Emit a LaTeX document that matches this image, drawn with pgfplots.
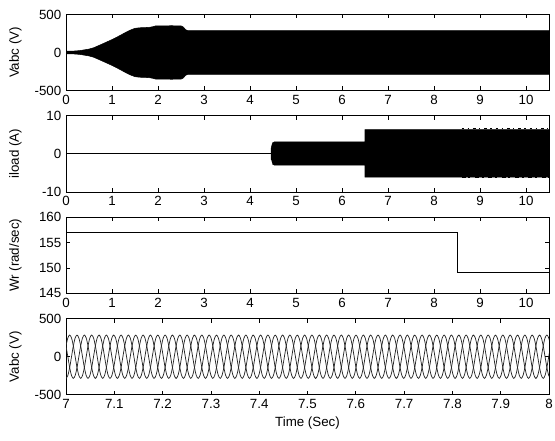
\documentclass[border=0pt]{standalone}
\usepackage{fontspec}
\setmainfont{Liberation Sans}
\usepackage{pgfplots}
\pgfplotsset{compat=1.18}
\usepackage{pgfplotstable}

\pgfplotstableread[row sep=\\]{
t a b c \\
7.0000 142.5 -285 142.5 \\ 7.0038 246.8 -246.8 0 \\ 7.0076 285 -142.5 -142.5 \\ 7.0114 246.8 0 -246.8 \\ 7.0152 142.5 142.5 -285 \\ 7.0190 0 246.8 -246.8 \\ 7.0228 -142.5 285 -142.5 \\ 7.0266 -246.8 246.8 0 \\ 7.0304 -285 142.5 142.5 \\ 7.0342 -246.8 0 246.8 \\ 7.0380 -142.5 -142.5 285 \\ 7.0418 0 -246.8 246.8 \\
7.0456 142.5 -285 142.5 \\ 7.0494 246.8 -246.8 0 \\ 7.0532 285 -142.5 -142.5 \\ 7.0570 246.8 0 -246.8 \\ 7.0608 142.5 142.5 -285 \\ 7.0646 0 246.8 -246.8 \\ 7.0684 -142.5 285 -142.5 \\ 7.0722 -246.8 246.8 0 \\ 7.0760 -285 142.5 142.5 \\ 7.0798 -246.8 0 246.8 \\ 7.0836 -142.5 -142.5 285 \\ 7.0874 0 -246.8 246.8 \\
7.0912 142.5 -285 142.5 \\ 7.0950 246.8 -246.8 0 \\ 7.0988 285 -142.5 -142.5 \\ 7.1026 246.8 0 -246.8 \\ 7.1064 142.5 142.5 -285 \\ 7.1102 0 246.8 -246.8 \\ 7.1140 -142.5 285 -142.5 \\ 7.1178 -246.8 246.8 0 \\ 7.1216 -285 142.5 142.5 \\ 7.1254 -246.8 0 246.8 \\ 7.1292 -142.5 -142.5 285 \\ 7.1330 0 -246.8 246.8 \\
7.1368 142.5 -285 142.5 \\ 7.1406 246.8 -246.8 0 \\ 7.1444 285 -142.5 -142.5 \\ 7.1482 246.8 0 -246.8 \\ 7.1520 142.5 142.5 -285 \\ 7.1558 0 246.8 -246.8 \\ 7.1596 -142.5 285 -142.5 \\ 7.1634 -246.8 246.8 0 \\ 7.1672 -285 142.5 142.5 \\ 7.1710 -246.8 0 246.8 \\ 7.1748 -142.5 -142.5 285 \\ 7.1786 0 -246.8 246.8 \\
7.1824 142.5 -285 142.5 \\ 7.1862 246.8 -246.8 0 \\ 7.1900 285 -142.5 -142.5 \\ 7.1938 246.8 0 -246.8 \\ 7.1976 142.5 142.5 -285 \\ 7.2014 0 246.8 -246.8 \\ 7.2052 -142.5 285 -142.5 \\ 7.2090 -246.8 246.8 0 \\ 7.2128 -285 142.5 142.5 \\ 7.2166 -246.8 0 246.8 \\ 7.2204 -142.5 -142.5 285 \\ 7.2242 0 -246.8 246.8 \\
7.2280 142.5 -285 142.5 \\ 7.2318 246.8 -246.8 0 \\ 7.2356 285 -142.5 -142.5 \\ 7.2394 246.8 0 -246.8 \\ 7.2432 142.5 142.5 -285 \\ 7.2470 0 246.8 -246.8 \\ 7.2508 -142.5 285 -142.5 \\ 7.2546 -246.8 246.8 0 \\ 7.2584 -285 142.5 142.5 \\ 7.2622 -246.8 0 246.8 \\ 7.2660 -142.5 -142.5 285 \\ 7.2698 0 -246.8 246.8 \\
7.2736 142.5 -285 142.5 \\ 7.2774 246.8 -246.8 0 \\ 7.2812 285 -142.5 -142.5 \\ 7.2850 246.8 0 -246.8 \\ 7.2888 142.5 142.5 -285 \\ 7.2926 0 246.8 -246.8 \\ 7.2964 -142.5 285 -142.5 \\ 7.3002 -246.8 246.8 0 \\ 7.3040 -285 142.5 142.5 \\ 7.3078 -246.8 0 246.8 \\ 7.3116 -142.5 -142.5 285 \\ 7.3154 0 -246.8 246.8 \\
7.3192 142.5 -285 142.5 \\ 7.3230 246.8 -246.8 0 \\ 7.3268 285 -142.5 -142.5 \\ 7.3306 246.8 0 -246.8 \\ 7.3344 142.5 142.5 -285 \\ 7.3382 0 246.8 -246.8 \\ 7.3420 -142.5 285 -142.5 \\ 7.3458 -246.8 246.8 0 \\ 7.3496 -285 142.5 142.5 \\ 7.3534 -246.8 0 246.8 \\ 7.3572 -142.5 -142.5 285 \\ 7.3610 0 -246.8 246.8 \\
7.3648 142.5 -285 142.5 \\ 7.3686 246.8 -246.8 0 \\ 7.3724 285 -142.5 -142.5 \\ 7.3762 246.8 0 -246.8 \\ 7.3800 142.5 142.5 -285 \\ 7.3838 0 246.8 -246.8 \\ 7.3876 -142.5 285 -142.5 \\ 7.3914 -246.8 246.8 0 \\ 7.3952 -285 142.5 142.5 \\ 7.3990 -246.8 0 246.8 \\ 7.4028 -142.5 -142.5 285 \\ 7.4066 0 -246.8 246.8 \\
7.4104 142.5 -285 142.5 \\ 7.4142 246.8 -246.8 0 \\ 7.4180 285 -142.5 -142.5 \\ 7.4218 246.8 0 -246.8 \\ 7.4256 142.5 142.5 -285 \\ 7.4294 0 246.8 -246.8 \\ 7.4332 -142.5 285 -142.5 \\ 7.4370 -246.8 246.8 0 \\ 7.4408 -285 142.5 142.5 \\ 7.4446 -246.8 0 246.8 \\ 7.4484 -142.5 -142.5 285 \\ 7.4522 0 -246.8 246.8 \\
7.4560 142.5 -285 142.5 \\ 7.4598 246.8 -246.8 0 \\ 7.4636 285 -142.5 -142.5 \\ 7.4674 246.8 0 -246.8 \\ 7.4712 142.5 142.5 -285 \\ 7.4750 0 246.8 -246.8 \\ 7.4788 -142.5 285 -142.5 \\ 7.4826 -246.8 246.8 0 \\ 7.4864 -285 142.5 142.5 \\ 7.4902 -246.8 0 246.8 \\ 7.4940 -142.5 -142.5 285 \\ 7.4978 0 -246.8 246.8 \\
7.5016 142.5 -285 142.5 \\ 7.5054 246.8 -246.8 0 \\ 7.5092 285 -142.5 -142.5 \\ 7.5130 246.8 0 -246.8 \\ 7.5168 142.5 142.5 -285 \\ 7.5206 0 246.8 -246.8 \\ 7.5244 -142.5 285 -142.5 \\ 7.5282 -246.8 246.8 0 \\ 7.5320 -285 142.5 142.5 \\ 7.5358 -246.8 0 246.8 \\ 7.5396 -142.5 -142.5 285 \\ 7.5434 0 -246.8 246.8 \\
7.5472 142.5 -285 142.5 \\ 7.5510 246.8 -246.8 0 \\ 7.5548 285 -142.5 -142.5 \\ 7.5586 246.8 0 -246.8 \\ 7.5624 142.5 142.5 -285 \\ 7.5662 0 246.8 -246.8 \\ 7.5700 -142.5 285 -142.5 \\ 7.5738 -246.8 246.8 0 \\ 7.5776 -285 142.5 142.5 \\ 7.5814 -246.8 0 246.8 \\ 7.5852 -142.5 -142.5 285 \\ 7.5890 0 -246.8 246.8 \\
7.5928 142.5 -285 142.5 \\ 7.5966 246.8 -246.8 0 \\ 7.6004 285 -142.5 -142.5 \\ 7.6042 246.8 0 -246.8 \\ 7.6080 142.5 142.5 -285 \\ 7.6118 0 246.8 -246.8 \\ 7.6156 -142.5 285 -142.5 \\ 7.6194 -246.8 246.8 0 \\ 7.6232 -285 142.5 142.5 \\ 7.6270 -246.8 0 246.8 \\ 7.6308 -142.5 -142.5 285 \\ 7.6346 0 -246.8 246.8 \\
7.6384 142.5 -285 142.5 \\ 7.6422 246.8 -246.8 0 \\ 7.6460 285 -142.5 -142.5 \\ 7.6498 246.8 0 -246.8 \\ 7.6536 142.5 142.5 -285 \\ 7.6574 0 246.8 -246.8 \\ 7.6612 -142.5 285 -142.5 \\ 7.6650 -246.8 246.8 0 \\ 7.6688 -285 142.5 142.5 \\ 7.6726 -246.8 0 246.8 \\ 7.6764 -142.5 -142.5 285 \\ 7.6802 0 -246.8 246.8 \\
7.6840 142.5 -285 142.5 \\ 7.6878 246.8 -246.8 0 \\ 7.6916 285 -142.5 -142.5 \\ 7.6954 246.8 0 -246.8 \\ 7.6992 142.5 142.5 -285 \\ 7.7030 0 246.8 -246.8 \\ 7.7068 -142.5 285 -142.5 \\ 7.7106 -246.8 246.8 0 \\ 7.7144 -285 142.5 142.5 \\ 7.7182 -246.8 0 246.8 \\ 7.7220 -142.5 -142.5 285 \\ 7.7258 0 -246.8 246.8 \\
7.7296 142.5 -285 142.5 \\ 7.7334 246.8 -246.8 0 \\ 7.7372 285 -142.5 -142.5 \\ 7.7410 246.8 0 -246.8 \\ 7.7448 142.5 142.5 -285 \\ 7.7486 0 246.8 -246.8 \\ 7.7524 -142.5 285 -142.5 \\ 7.7562 -246.8 246.8 0 \\ 7.7600 -285 142.5 142.5 \\ 7.7638 -246.8 0 246.8 \\ 7.7676 -142.5 -142.5 285 \\ 7.7714 0 -246.8 246.8 \\
7.7752 142.5 -285 142.5 \\ 7.7790 246.8 -246.8 0 \\ 7.7828 285 -142.5 -142.5 \\ 7.7866 246.8 0 -246.8 \\ 7.7904 142.5 142.5 -285 \\ 7.7942 0 246.8 -246.8 \\ 7.7980 -142.5 285 -142.5 \\ 7.8018 -246.8 246.8 0 \\ 7.8056 -285 142.5 142.5 \\ 7.8094 -246.8 0 246.8 \\ 7.8132 -142.5 -142.5 285 \\ 7.8170 0 -246.8 246.8 \\
7.8208 142.5 -285 142.5 \\ 7.8246 246.8 -246.8 0 \\ 7.8284 285 -142.5 -142.5 \\ 7.8322 246.8 0 -246.8 \\ 7.8360 142.5 142.5 -285 \\ 7.8398 0 246.8 -246.8 \\ 7.8436 -142.5 285 -142.5 \\ 7.8474 -246.8 246.8 0 \\ 7.8512 -285 142.5 142.5 \\ 7.8550 -246.8 0 246.8 \\ 7.8588 -142.5 -142.5 285 \\ 7.8626 0 -246.8 246.8 \\
7.8664 142.5 -285 142.5 \\ 7.8702 246.8 -246.8 0 \\ 7.8740 285 -142.5 -142.5 \\ 7.8778 246.8 0 -246.8 \\ 7.8816 142.5 142.5 -285 \\ 7.8854 0 246.8 -246.8 \\ 7.8892 -142.5 285 -142.5 \\ 7.8930 -246.8 246.8 0 \\ 7.8968 -285 142.5 142.5 \\ 7.9006 -246.8 0 246.8 \\ 7.9044 -142.5 -142.5 285 \\ 7.9082 0 -246.8 246.8 \\
7.9120 142.5 -285 142.5 \\ 7.9158 246.8 -246.8 0 \\ 7.9196 285 -142.5 -142.5 \\ 7.9234 246.8 0 -246.8 \\ 7.9272 142.5 142.5 -285 \\ 7.9310 0 246.8 -246.8 \\ 7.9348 -142.5 285 -142.5 \\ 7.9386 -246.8 246.8 0 \\ 7.9424 -285 142.5 142.5 \\ 7.9462 -246.8 0 246.8 \\ 7.9500 -142.5 -142.5 285 \\ 7.9538 0 -246.8 246.8 \\
7.9576 142.5 -285 142.5 \\ 7.9614 246.8 -246.8 0 \\ 7.9652 285 -142.5 -142.5 \\ 7.9690 246.8 0 -246.8 \\ 7.9728 142.5 142.5 -285 \\ 7.9766 0 246.8 -246.8 \\ 7.9804 -142.5 285 -142.5 \\ 7.9842 -246.8 246.8 0 \\ 7.9880 -285 142.5 142.5 \\ 7.9918 -246.8 0 246.8 \\ 7.9956 -142.5 -142.5 285 \\ 7.9994 0 -246.8 246.8 \\
8.0032 142.5 -285 142.5 \\
}\vabc

\pgfplotsset{
  panel/.style={
    scale only axis, width=362.25pt, height=57pt,
    anchor=north west,
    axis line style={black, line width=0.6pt},
    tick align=inside, major tick length=3pt,
    tick style={black, line width=0.6pt},
    xtick pos=both, ytick pos=both,
    ticklabel style={font=\fontsize{10}{12}\selectfont},
    label style={font=\fontsize{10}{12}\selectfont},
    every axis y label/.style={at={(rel axis cs:0,0.5)}, anchor=center, rotate=90, yshift=38pt},
    every axis x label/.style={at={(rel axis cs:0.5,0)}, anchor=center, yshift=-21pt},
  },
  tenx/.style={
    xmin=0, xmax=10.5,
    xtick={0,1,2,3,4,5,6,7,8,9,10},
    xticklabels={0,1,2,3,4,5,6,7,8,9,10},
  },
}

\begin{document}
\begin{tikzpicture}
\useasboundingbox (0,0) rectangle (416.25pt,-330.75pt);

% Panel 1: Vabc
\begin{axis}[panel, tenx, at={(49.5pt,-10.875pt)},
  ymin=-500, ymax=500, ytick={-500,0,500}, yticklabels={-500,0,500},
  ylabel={Vabc (V)}]
\addplot[fill=black, draw=black, line width=0.4pt] coordinates {
(0,18)(0.15,18)(0.3,25)(0.4,35)(0.5,45)(0.6,62)(0.7,88)(0.8,115)(0.9,142)(1.0,170)(1.1,200)(1.2,232)(1.3,265)(1.4,295)(1.5,318)(1.6,325)(1.8,330)(1.88,338)(1.95,350)(2.3,352)(2.5,350)(2.55,335)(2.6,300)(2.65,287)(10.5,287)
(10.5,-287)(2.65,-287)(2.6,-300)(2.55,-335)(2.5,-350)(2.3,-352)(1.95,-350)(1.88,-338)(1.8,-330)(1.6,-325)(1.5,-318)(1.4,-295)(1.3,-265)(1.2,-232)(1.1,-200)(1.0,-170)(0.9,-142)(0.8,-115)(0.7,-88)(0.6,-62)(0.5,-45)(0.4,-35)(0.3,-25)(0.15,-18)(0,-18)
};
\end{axis}

% Panel 2: iload
\begin{axis}[panel, tenx, at={(49.5pt,-86.925pt)},
  ymin=-10, ymax=10, ytick={-10,0,10}, yticklabels={-10,0,10},
  ylabel={iload (A)}]
\addplot[black, line width=0.6pt] coordinates {(0,0)(4.5,0)};
\addplot[fill=black, draw=black, line width=0.4pt] coordinates {
(4.46,-1.5)(4.46,1.5)(4.49,2.9)(4.53,3.15)(6.5,3.15)(6.5,6.4)(10.5,6.4)
(10.5,-6.1)(6.5,-6.1)(6.5,-2.95)(4.53,-2.95)(4.49,-2.7)
};
\addplot[black, line width=0.8pt, dash pattern=on 2pt off 2.5pt on 1pt off 3pt] coordinates {(8.6,6.6)(10.5,6.6)};
\addplot[black, line width=0.8pt, dash pattern=on 3pt off 2pt on 1.5pt off 3.5pt] coordinates {(8.6,-6.3)(10.5,-6.3)};
\end{axis}

% Panel 3: Wr
\begin{axis}[panel, tenx, at={(49.5pt,-162.975pt)},
  ymin=145, ymax=160, ytick={145,150,155,160}, yticklabels={145,150,155,160},
  ylabel={Wr (rad/sec)}]
\addplot[black, line width=0.6pt] coordinates {(0,157)(8.5,157)(8.5,149.2)(10.5,149.2)};
\end{axis}

% Panel 4: Vabc zoom
\begin{axis}[panel, at={(49.5pt,-239.025pt)},
  xmin=7, xmax=8,
  xtick={7,7.1,7.2,7.3,7.4,7.5,7.6,7.7,7.8,7.9,8},
  xticklabels={7,7.1,7.2,7.3,7.4,7.5,7.6,7.7,7.8,7.9,8},
  ymin=-500, ymax=500, ytick={-500,0,500}, yticklabels={-500,0,500},
  ylabel={Vabc (V)}, xlabel={Time (Sec)}]
\addplot[black!85, line width=0.55pt, smooth] table[x=t, y=a] {\vabc};
\addplot[black!85, line width=0.55pt, smooth] table[x=t, y=b] {\vabc};
\addplot[black!85, line width=0.55pt, smooth] table[x=t, y=c] {\vabc};
\end{axis}
\end{tikzpicture}
\end{document}
